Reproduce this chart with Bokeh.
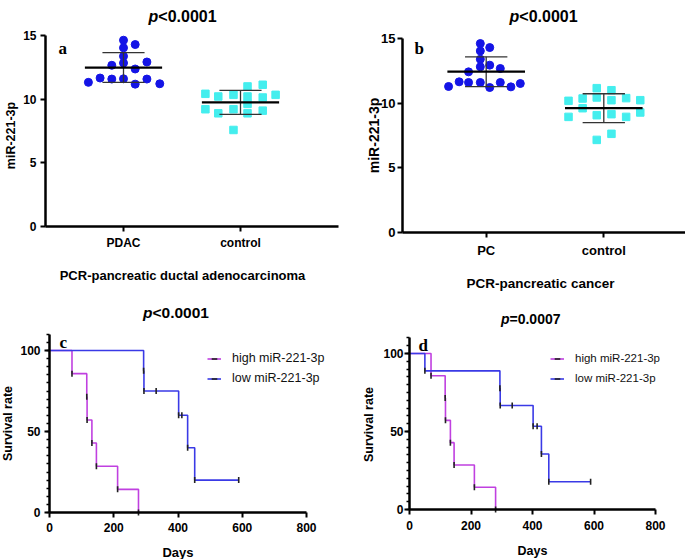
import numpy as np
from bokeh.plotting import figure
from bokeh.layouts import column, row
from bokeh.models import (Label, Range1d, FixedTicker, SingleIntervalTicker,
                          Legend, LegendItem)
from bokeh.embed import file_html
from bokeh.resources import INLINE

# ---------------- data ----------------
a_categories = ["PDAC", "control"]
a_pdac = [14.63, 14.29, 14.03, 13.37, 12.66, 12.84, 12.92, 12.37,
          11.32, 11.66, 11.58, 11.60, 11.18, 11.58, 11.21]
a_pdac_jitter = [0.0, 0.1, 0.0, 0.0, -0.1, 0.0, 0.2, 0.1,
                 -0.3, -0.2, -0.1, 0.0, 0.1, 0.2, 0.31]
a_control = [10.42, 10.21, 10.34, 11.00, 11.13, 10.21, 10.13, 10.34,
             9.21, 8.89, 9.21, 9.63, 8.89, 9.10, 7.58]
a_control_jitter = [-0.3, -0.19, -0.06, 0.06, 0.19, 0.06, 0.19, 0.3,
                    -0.3, -0.19, -0.06, 0.06, 0.06, 0.19, -0.06]

b_categories = ["PC", "control"]
b_pc = [14.61, 14.30, 14.04, 13.40, 12.81, 12.94, 12.68, 12.42,
        11.29, 11.65, 11.60, 11.60, 11.21, 11.60, 11.26, 11.52]
b_pc_jitter = [-0.05, 0.03, -0.05, -0.05, -0.05, 0.03, 0.12, -0.15,
               -0.32, -0.23, -0.15, -0.05, 0.03, 0.12, 0.21, 0.29]
b_control = [10.18, 10.36, 11.16, 11.00, 10.44, 10.23, 10.39, 10.23,
             9.61, 8.94, 9.07, 9.15, 8.94, 9.28, 7.16, 7.63]
b_control_jitter = [-0.30, -0.18, -0.06, 0.065, -0.06, 0.065, 0.19, 0.31,
                    -0.18, -0.30, -0.06, 0.065, 0.19, 0.31, -0.06, 0.065]

scatter_y_ticks = [0, 5, 10, 15]
km_x_ticks = [0, 200, 400, 600, 800]

c_high_days = [70, 116, 117, 132, 146, 212, 277]
c_high_event = [1, 1, 1, 1, 1, 1, 1]
c_low_days = [293, 294, 332, 402, 412, 430, 452, 589]
c_low_event = [1, 1, 0, 1, 0, 1, 1, 0]
d_high_days = [70, 116, 117, 133, 145, 211, 280]
d_high_event = [1, 1, 1, 1, 1, 1, 1]
d_low_days = [50, 294, 295, 334, 402, 415, 429, 453, 589]
d_low_event = [1, 1, 1, 0, 1, 0, 1, 1, 0]

series_names = ["high miR-221-3p", "low miR-221-3p"]
p_texts = {"a": "<0.0001", "b": "<0.0001", "c": "<0.0001", "d": "=0.0007"}

# ---------------- style ----------------
FONT = "Liberation Sans"
SERIF = "Liberation Serif"
BLUE_DOT = "#1414e6"
CYAN_SQ = "#44eeee"
HIGH_C = "#c040e0"
LOW_C = "#3a3ae6"

ROW1_H = 296
TOTAL_H = 559


class Panel:
    """The frame fills the whole figure; the axes are drawn at fixed
    locations inside it (so every position is a plain pixel mapping)."""

    def __init__(self, fig_left, fig_top, width, height, xa, xb, ya, yb,
                 axis_x_px, axis_y_px, xbounds, ybounds):
        self.L, self.T, self.W, self.H = fig_left, fig_top, width, height
        (xa_px, xa_v), (xb_px, xb_v) = xa, xb
        (ya_px, ya_v), (yb_px, yb_v) = ya, yb
        sx = (xb_v - xa_v) / (xb_px - xa_px)
        sy = (yb_v - ya_v) / (ya_px - yb_px)
        R, B = fig_left + width, fig_top + height
        xr = (xa_v + (fig_left - xa_px) * sx, xa_v + (R - xa_px) * sx)
        yr = (ya_v - (B - ya_px) * sy, ya_v + (ya_px - fig_top) * sy)
        self.xr, self.yr = xr, yr
        self.fig = figure(width=width, height=height,
                          x_range=Range1d(*xr), y_range=Range1d(*yr),
                          output_backend="svg", toolbar_location=None, tools="",
                          min_border_left=0, min_border_right=0,
                          min_border_top=0, min_border_bottom=0)
        p = self.fig
        p.outline_line_color = None
        p.xgrid.visible = False
        p.ygrid.visible = False
        xax, yax = p.xaxis[0], p.yaxis[0]
        xax.fixed_location = self.dy(axis_y_px)
        yax.fixed_location = self.dx(axis_x_px)
        xax.bounds = (self.dx(xbounds[0]), self.dx(xbounds[1])) if xbounds[2] == "px" else xbounds[:2]
        yax.bounds = ybounds
        for ax in (xax, yax):
            ax.axis_line_width = 2.5
            ax.axis_line_color = "black"
            ax.major_tick_line_width = 2
            ax.major_tick_out = 5
            ax.major_tick_in = 0
            ax.minor_tick_line_color = None
            ax.major_label_text_font = FONT
            ax.major_label_text_font_style = "bold"
            ax.major_label_text_color = "black"

    def dx(self, px):
        return self.xr[0] + (px - self.L) * (self.xr[1] - self.xr[0]) / self.W

    def dy(self, py):
        return self.yr[1] - (py - self.T) * (self.yr[1] - self.yr[0]) / self.H

    def label(self, px, py, text, size, style="bold", font=FONT, align="left",
              baseline="alphabetic", angle=0.0):
        self.fig.add_layout(Label(x=self.dx(px), y=self.dy(py), text=text,
                                  text_font=font, text_font_style=style,
                                  text_font_size=size, text_align=align,
                                  text_baseline=baseline, angle=angle,
                                  text_color="black"))

    def ptitle(self, split_px, base_py, key, size):
        self.label(split_px, base_py, "p", size, style="bold italic", align="right")
        self.label(split_px, base_py, p_texts[key], size, style="bold", align="left")

    def ylabel(self, text, size, cx, cy):
        self.label(cx, cy, text, size, align="center", baseline="middle",
                   angle=np.pi / 2)

    def xlabel(self, text, size, cx, base_py):
        self.label(cx, base_py, text, size, align="center")


def scatter_panel(pan, cats, g1, j1, g2, j2, tick_size):
    p = pan.fig
    p.xaxis.ticker = FixedTicker(ticks=[1, 2])
    p.xaxis.major_label_overrides = {1: cats[0], 2: cats[1]}
    p.yaxis.ticker = FixedTicker(ticks=scatter_y_ticks)
    p.xaxis.major_label_text_font_size = tick_size
    p.yaxis.major_label_text_font_size = tick_size
    x1 = [1 + j for j in j1]
    x2 = [2 + j for j in j2]
    p.scatter(x1, g1, marker="circle", size=8, fill_color=BLUE_DOT,
              line_color=BLUE_DOT)
    p.scatter(x2, g2, marker="square", size=7.5, fill_color=CYAN_SQ,
              line_color=CYAN_SQ)
    means = [float(np.mean(g1)), float(np.mean(g2))]
    sds = [float(np.std(g1, ddof=1)), float(np.std(g2, ddof=1))]
    cx = [1, 2]
    lo = [m - s for m, s in zip(means, sds)]
    hi = [m + s for m, s in zip(means, sds)]
    p.segment(cx, lo, cx, hi, line_color="#333333", line_width=1.3)
    cap = 0.18
    p.segment([c - cap for c in cx], hi, [c + cap for c in cx], hi,
              line_color="#333333", line_width=1.3)
    p.segment([c - cap for c in cx], lo, [c + cap for c in cx], lo,
              line_color="#333333", line_width=1.3)
    mw = 0.33
    p.segment([c - mw for c in cx], means, [c + mw for c in cx], means,
              line_color="black", line_width=2.2)


def km(days, events):
    n = len(days)
    s = 100.0
    xs, ys, tx, ty = [0.0], [100.0], [], []
    for t, e in zip(days, events):
        if e:
            xs.append(t); ys.append(s)
            s = s * (n - 1) / n
            xs.append(t); ys.append(s)
        else:
            xs.append(t); ys.append(s)
        tx.append(t); ty.append(s)
        n -= 1
    return xs, ys, tx, ty


def km_panel(pan, high, low, tick_size, legend_px, legend_size):
    p = pan.fig
    p.xaxis.ticker = FixedTicker(ticks=km_x_ticks)
    p.yaxis.ticker = SingleIntervalTicker(interval=50, num_minor_ticks=10)
    p.yaxis.minor_tick_line_color = "black"
    p.yaxis.minor_tick_line_width = 1.5
    p.yaxis.minor_tick_out = 3
    p.yaxis.minor_tick_in = 0
    p.xaxis.major_label_text_font_size = tick_size
    p.yaxis.major_label_text_font_size = tick_size
    items = []
    for (days, ev), col, name in zip([high, low], [HIGH_C, LOW_C], series_names):
        xs, ys, tx, ty = km(days, ev)
        r1 = p.line(xs, ys, line_color=col, line_width=1.6)
        r2 = p.scatter(tx, ty, marker="dash", angle=np.pi / 2, size=6,
                       line_color="#222222", line_width=1.6)
        items.append(LegendItem(label=name, renderers=[r1, r2]))
    # legend location: bottom-left corner, in pixels from the frame's bottom-left
    lx, ly_bottom = legend_px
    leg = Legend(items=items, location=(lx - pan.L, pan.T + pan.H - ly_bottom),
                 border_line_color=None,
                 background_fill_alpha=0, padding=0, margin=0, spacing=3,
                 glyph_width=14, glyph_height=17, label_height=17,
                 label_standoff=11, label_text_font=FONT,
                 label_text_font_size=legend_size, label_text_color="#111111")
    p.add_layout(leg)


# ---------------- panel a ----------------
pa = Panel(0, 0, 345, ROW1_H, xa=(123, 1), xb=(240, 2), ya=(226, 0), yb=(35, 15),
           axis_x_px=45, axis_y_px=226, xbounds=(45, 338, "px"), ybounds=(0, 15))
scatter_panel(pa, a_categories, a_pdac, a_pdac_jitter, a_control,
              a_control_jitter, "12px")
pa.fig.xaxis.major_label_standoff = 4
pa.fig.yaxis.major_label_standoff = 4
pa.ylabel("miR-221-3p", "12.5px", 10, 135)
pa.xlabel("PCR-pancreatic ductal adenocarcinoma", "13px", 182, 274.5)
pa.label(58, 48, "a", "17px", font=SERIF)
pa.ptitle(157.8, 15.5, "a", "16px")

# ---------------- panel b ----------------
pb = Panel(345, 0, 340, ROW1_H, xa=(485.7, 1), xb=(603.3, 2), ya=(232, 0), yb=(38, 15),
           axis_x_px=402, axis_y_px=232, xbounds=(402, 685, "px"), ybounds=(0, 15))
scatter_panel(pb, b_categories, b_pc, b_pc_jitter, b_control,
              b_control_jitter, "13px")
pb.fig.xaxis.major_label_standoff = 5
pb.fig.yaxis.major_label_standoff = 2
pb.ylabel("miR-221-3p", "14px", 373, 135)
pb.xlabel("PCR-pancreatic cancer", "13.5px", 540, 283)
pb.label(414, 48, "b", "17px", font=SERIF)
pb.ptitle(518.8, 15.5, "b", "16px")

# ---------------- panel c ----------------
pc = Panel(0, ROW1_H, 345, TOTAL_H - ROW1_H, xa=(49, 0), xb=(306, 800),
           ya=(512, 0), yb=(350, 100), axis_x_px=49, axis_y_px=512,
           xbounds=(0, 800, "data"), ybounds=(0, 110))
km_panel(pc, (c_high_days, c_high_event), (c_low_days, c_low_event), "12px",
         (207, 386.5), "12.5px")
pc.fig.xaxis.major_label_standoff = 5
pc.fig.yaxis.major_label_standoff = 4
pc.ylabel("Survival rate", "12.5px", 7.5, 423)
pc.xlabel("Days", "13px", 177.5, 551.5)
pc.label(59, 342, "c", "17px", font=SERIF)
pc.ptitle(152, 312, "c", "15.5px")

# ---------------- panel d ----------------
pd_ = Panel(345, ROW1_H, 340, TOTAL_H - ROW1_H, xa=(409, 0), xb=(655, 800),
            ya=(509, 0), yb=(353, 100), axis_x_px=409, axis_y_px=509,
            xbounds=(0, 800, "data"), ybounds=(0, 110))
km_panel(pd_, (d_high_days, d_high_event), (d_low_days, d_low_event), "12px",
         (550, 386.5), "11.5px")
pd_.fig.xaxis.major_label_standoff = 6
pd_.fig.yaxis.major_label_standoff = 1
pd_.ylabel("Survival rate", "12.5px", 368, 424)
pd_.xlabel("Days", "12.5px", 532, 550.5)
pd_.label(418, 345, "d", "17px", font=SERIF)
pd_.ptitle(509, 318, "d", "14px")

layout = column(row(pa.fig, pb.fig), row(pc.fig, pd_.fig))
open("out.html", "w").write(file_html(layout, INLINE))
